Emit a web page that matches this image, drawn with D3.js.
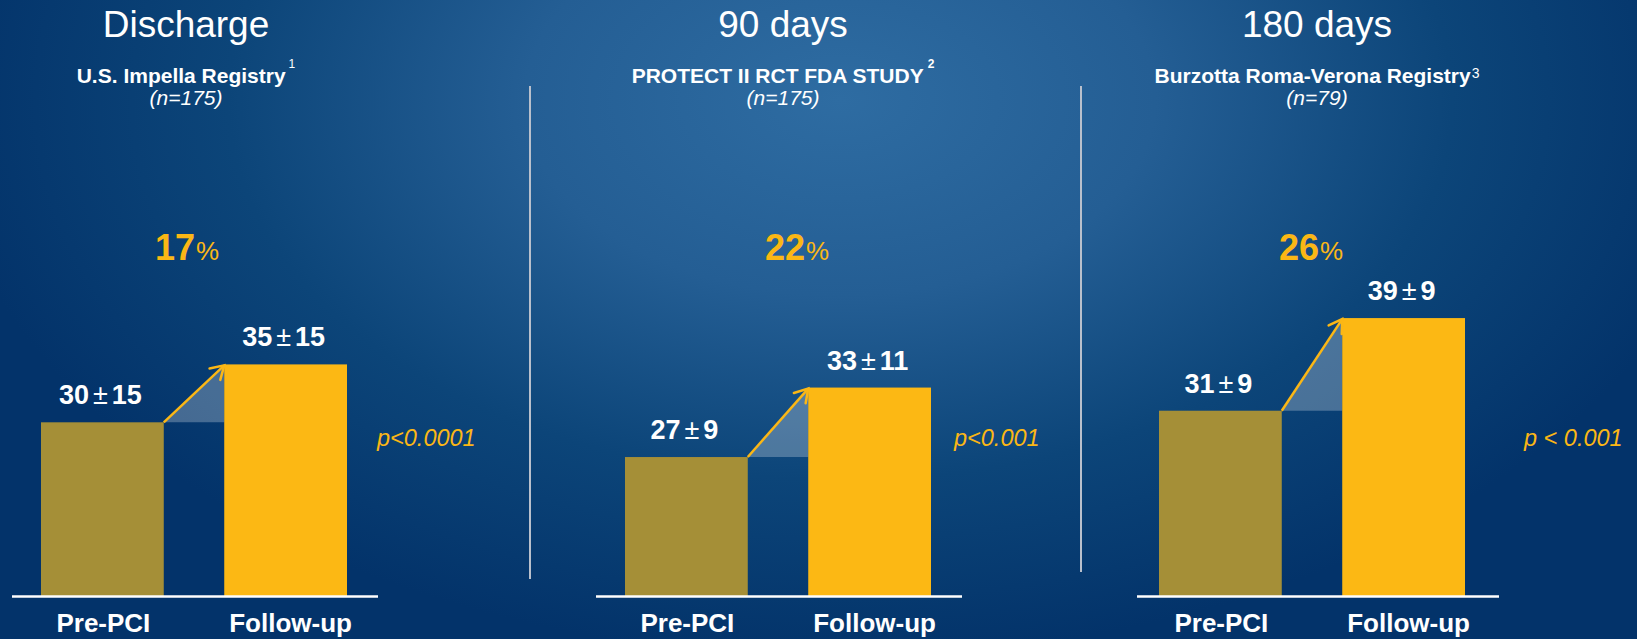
<!DOCTYPE html>
<html>
<head>
<meta charset="utf-8">
<script src="https://cdn.jsdelivr.net/npm/d3@7"></script>
<style>
  html, body { margin: 0; padding: 0; background: #0a3f72; }
  svg { display: block; font-family: "Liberation Sans", Arial, sans-serif; }
</style>
</head>
<body>
<div id="chart"></div>
<script>
// data
var timepoints = ["Discharge", "90 days", "180 days"];
var studies = ["U.S. Impella Registry", "PROTECT II RCT FDA STUDY", "Burzotta Roma-Verona Registry"];
var refs = ["1", "2", "3"];
var sampleSizes = [175, 175, 79];
var categories = ["Pre-PCI", "Follow-up"];
var preMeans = [30, 27, 31];
var preSD = [15, 9, 9];
var followMeans = [35, 33, 39];
var followSD = [15, 11, 9];
var improvements = [17, 22, 26];
var pValues = ["p<0.0001", "p<0.001", "p < 0.001"];

// where each panel sits on the slide
var layout = [
  { title: 186, bars: 41, axis: [12, 378], pct: 187, pX: 377, supDx: 3, supDy: -15.5, supSize: 12, supWeight: "normal" },
  { title: 783, bars: 625, axis: [596, 962], pct: 797, pX: 954, supDx: 4, supDy: -15.5, supSize: 12, supWeight: "bold" },
  { title: 1317, bars: 1159, axis: [1137, 1499], pct: 1311, pX: 1524, supDx: 1, supDy: -5.5, supSize: 14, supWeight: "normal" },
];

var width = 1637, height = 639;
var orange = "#fbb715";
var olive = "#a58f37";

var svg = d3.select("#chart").append("svg")
  .attr("width", width)
  .attr("height", height);

var defs = svg.append("defs");
var grad = defs.append("radialGradient")
  .attr("id", "bg")
  .attr("gradientUnits", "userSpaceOnUse")
  .attr("cx", 840).attr("cy", 100).attr("r", 900)
  .attr("gradientTransform", "translate(840,100) scale(1,0.62) translate(-840,-100)");
grad.append("stop").attr("offset", 0).attr("stop-color", "#2e6ca2");
grad.append("stop").attr("offset", 0.35).attr("stop-color", "#245e94");
grad.append("stop").attr("offset", 0.68).attr("stop-color", "#0c4579");
grad.append("stop").attr("offset", 1).attr("stop-color", "#03336a");

svg.append("rect")
  .attr("width", width)
  .attr("height", height)
  .attr("fill", "url(#bg)");

// same value scale in every panel (axis does not start at zero)
var y = d3.scaleLinear().domain([15, 50]).range([596, 190.7]);

var x = d3.scaleBand().domain(categories).range([0, 306]).paddingInner(0.33).paddingOuter(0);

timepoints.forEach(function (tp, i) {
  var L = layout[i];
  var g = svg.append("g");
  var vals = [preMeans[i], followMeans[i]];
  var sds = [preSD[i], followSD[i]];

  // titles
  g.append("text")
    .attr("x", L.title).attr("y", 37)
    .attr("text-anchor", "middle")
    .attr("fill", "white")
    .attr("font-size", 37)
    .text(tp);

  var sub = g.append("text")
    .attr("x", L.title).attr("y", 83)
    .attr("text-anchor", "middle")
    .attr("fill", "white")
    .attr("font-size", 21)
    .attr("font-weight", "bold");
  sub.append("tspan").text(studies[i]);
  sub.append("tspan")
    .attr("dx", L.supDx)
    .attr("dy", L.supDy)
    .attr("font-size", L.supSize)
    .attr("font-weight", L.supWeight)
    .text(refs[i]);

  var nTxt = g.append("text")
    .attr("x", L.title).attr("y", 105)
    .attr("text-anchor", "middle")
    .attr("fill", "white")
    .attr("font-size", 21)
    .attr("font-style", "italic");
  nTxt.append("tspan").text("(");
  nTxt.append("tspan").text("n");
  nTxt.append("tspan").text("=" + sampleSizes[i] + ")");

  // improvement
  var pct = g.append("text")
    .attr("x", L.pct).attr("y", 260)
    .attr("text-anchor", "middle")
    .attr("fill", orange);
  pct.append("tspan").attr("font-size", 36).attr("font-weight", "bold").text(improvements[i]);
  pct.append("tspan").attr("font-size", 26).attr("dx", 1).text("%");

  var bx = function (c) { return L.bars + x(c); };
  var preR = bx(categories[0]) + x.bandwidth();
  var folL = bx(categories[1]);

  // shaded rise between the bars
  g.append("path")
    .attr("d", "M" + preR + "," + y(vals[0]) + "L" + folL + "," + y(vals[1]) + "L" + folL + "," + y(vals[0]) + "Z")
    .attr("fill", "white")
    .attr("fill-opacity", 0.26);

  // bars
  g.selectAll("rect.bar")
    .data(categories)
    .join("rect")
    .attr("class", "bar")
    .attr("x", function (c) { return bx(c); })
    .attr("y", function (c, k) { return y(vals[k]); })
    .attr("width", x.bandwidth())
    .attr("height", function (c, k) { return y.range()[0] - y(vals[k]); })
    .attr("fill", function (c, k) { return k === 0 ? olive : "#fcb814"; });

  // arrow
  var x1 = preR, y1 = y(vals[0]), x2 = folL, y2 = y(vals[1]) + 1;
  var ang = Math.atan2(y2 - y1, x2 - x1);
  var head = 15, spread = 0.55;
  g.append("line")
    .attr("x1", x1).attr("y1", y1)
    .attr("x2", x2).attr("y2", y2)
    .attr("stroke", orange)
    .attr("stroke-width", 2.5);
  g.append("path")
    .attr("d",
      "M" + (x2 - head * Math.cos(ang - spread)) + "," + (y2 - head * Math.sin(ang - spread)) +
      "L" + x2 + "," + y2 +
      "L" + (x2 - head * Math.cos(ang + spread)) + "," + (y2 - head * Math.sin(ang + spread)))
    .attr("fill", "none")
    .attr("stroke", orange)
    .attr("stroke-width", 2.5)
    .attr("stroke-linecap", "round");

  // value labels
  categories.forEach(function (c, k) {
    var t = g.append("text")
      .attr("x", bx(c) + x.bandwidth() / 2 - 2)
      .attr("y", y(vals[k]) - 18)
      .attr("text-anchor", "middle")
      .attr("fill", "white")
      .attr("font-size", 27)
      .attr("font-weight", "bold");
    t.append("tspan").text(vals[k]);
    t.append("tspan").attr("font-weight", "normal").attr("dx", 4).text("\u00B1");
    t.append("tspan").attr("dx", 4).text(sds[k]);
  });

  // base line
  g.append("line")
    .attr("x1", L.axis[0]).attr("x2", L.axis[1])
    .attr("y1", 596.5).attr("y2", 596.5)
    .attr("stroke", "white")
    .attr("stroke-width", 2.5);

  // category labels
  g.selectAll("text.cat")
    .data(categories)
    .join("text")
    .attr("class", "cat")
    .attr("x", function (c, k) { return bx(c) + x.bandwidth() / 2 + (k === 1 ? 5 : 1); })
    .attr("y", 632)
    .attr("text-anchor", "middle")
    .attr("fill", "white")
    .attr("font-size", 26)
    .attr("font-weight", "bold")
    .text(function (c) { return c; });

  // p value
  g.append("text")
    .attr("x", L.pX).attr("y", 446)
    .attr("fill", orange)
    .attr("font-size", 23.5)
    .attr("font-style", "italic")
    .text(pValues[i]);
});

// panel dividers
[530, 1081].forEach(function (dx, i) {
  svg.append("line")
    .attr("x1", dx).attr("x2", dx)
    .attr("y1", 86).attr("y2", i === 0 ? 579 : 572)
    .attr("stroke", "#b9c0cc")
    .attr("stroke-width", 2);
});
</script>
</body>
</html>
